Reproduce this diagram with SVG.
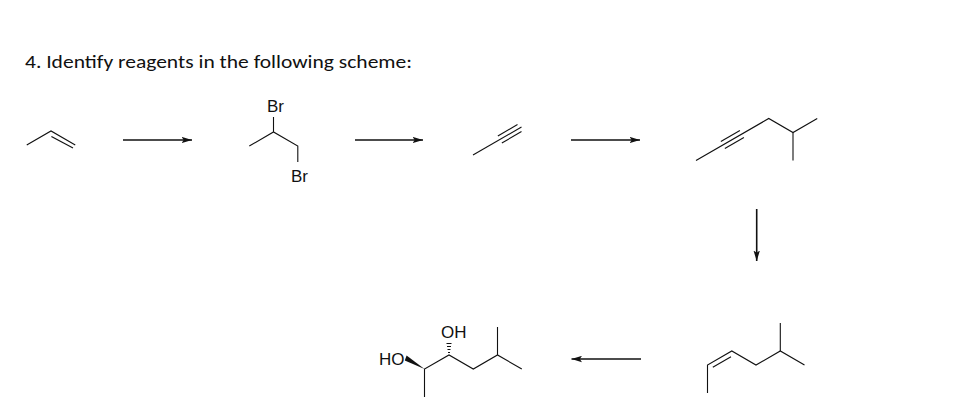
<svg xmlns="http://www.w3.org/2000/svg" width="961" height="419" viewBox="0 0 961 419">
  <style>
    .bond { stroke: #111; stroke-width: 1.1; fill: none; stroke-linecap: butt; }
    .arrow { stroke: #111; stroke-width: 1.6; fill: none; }
    .lbl { font-family: "Liberation Sans", Arial, sans-serif; font-size: 17px; fill: #111; }
    .title { font-family: Carlito, Calibri, "Liberation Sans", Arial, sans-serif; font-size: 18.5px; fill: #111; }
  </style>
  <defs>
    <marker id="ah" markerUnits="userSpaceOnUse" viewBox="0 0 11 7" markerWidth="11" markerHeight="7" refX="10.5" refY="3.5" orient="auto">
      <path d="M0,0.3 L10.5,3.5 L0,6.7 L2.2,3.5 Z" fill="#111"/>
    </marker>
  </defs>
  <rect width="961" height="419" fill="#fff"/>

  <text id="title" class="title" x="25" y="68" textLength="387" lengthAdjust="spacingAndGlyphs">4. Identify reagents in the following scheme:</text>

  <g id="propene">
    <path class="bond" d="M26.75,145 L51,131 L75.25,145"/>
    <path class="bond" d="M51.4,136.4 L73,147.9"/>
  </g>

  <g id="dibromopropane">
    <path class="bond" d="M249.3,146 L273.5,132 L297.8,146 L297.8,162"/>
    <path class="bond" d="M273.5,132 L273.5,117"/>
    <text class="lbl" x="275.5" y="112" text-anchor="middle">Br</text>
    <text class="lbl" x="299.5" y="181.5" text-anchor="middle">Br</text>
  </g>

  <g id="propyne">
    <path class="bond" d="M473,155 L521.5,127"/>
    <path class="bond" d="M497.85,136 L517.5,124.6"/>
    <path class="bond" d="M501.85,143 L521.5,131.6"/>
  </g>

  <g id="methylhexyne">
    <path class="bond" d="M696,160.5 L768.75,118.5 L793,132.5 L817.25,118.5"/>
    <path class="bond" d="M793,132.5 L793,160.5"/>
    <path class="bond" d="M720.85,141.5 L739.9,130.5"/>
    <path class="bond" d="M724.85,148.5 L743.9,137.5"/>
  </g>

  <g id="methylhexene">
    <path class="bond" d="M707.5,393 L707.5,365 L731.8,351 L756,365 L780.3,351 L804.5,365"/>
    <path class="bond" d="M780.3,351 L780.3,323"/>
    <path class="bond" d="M712.8,367.2 L731,356.7"/>
  </g>

  <g id="diol">
    <path class="bond" d="M424.5,397 L424.5,369 L449,355 L473.3,369 L497.5,355 L521.8,369"/>
    <path class="bond" d="M497.5,355 L497.5,327"/>
    <path d="M424.5,369 L406.6,355.6 L404.8,360.4 Z" fill="#111"/>
    <g stroke="#111" stroke-width="1">
      <line x1="448" y1="352.5" x2="450" y2="352.5"/>
      <line x1="447.5" y1="349.5" x2="450.5" y2="349.5"/>
      <line x1="447" y1="346.5" x2="451" y2="346.5"/>
      <line x1="446.5" y1="343.5" x2="451.5" y2="343.5"/>
    </g>
    <text class="lbl" x="404.5" y="365" text-anchor="end">HO</text>
    <text class="lbl" x="441" y="337.5">OH</text>
  </g>

  <g id="connectors">
    <line class="arrow" x1="123" y1="140" x2="192" y2="140" marker-end="url(#ah)"/>
    <line class="arrow" x1="355" y1="140" x2="423" y2="140" marker-end="url(#ah)"/>
    <line class="arrow" x1="571" y1="140" x2="640" y2="140" marker-end="url(#ah)"/>
    <line class="arrow" x1="756.7" y1="209" x2="756.7" y2="261" marker-end="url(#ah)"/>
    <line class="arrow" x1="641" y1="359" x2="571.5" y2="359" marker-end="url(#ah)"/>
  </g>
</svg>
